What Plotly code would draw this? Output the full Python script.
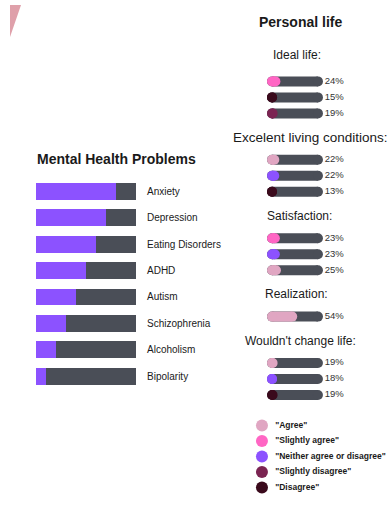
import plotly.graph_objects as go

W, H = 391, 517
FONT = "Liberation Sans, Arial, Helvetica, sans-serif"

# ---------------- data ----------------
problems = ["Anxiety", "Depression", "Eating Disorders", "ADHD", "Autism",
            "Schizophrenia", "Alcoholism", "Bipolarity"]
problem_pct = [80, 70, 60, 50, 40, 30, 20, 10]

answers = ['"Agree"', '"Slightly agree"', '"Neither agree or disagree"',
           '"Slightly disagree"', '"Disagree"']
answer_colors = ["#e0a6c2", "#ff66c4", "#8c52ff", "#7b2452", "#3a0a1c"]

groups = ["Ideal life:", "Excelent living conditions:", "Satisfaction:",
          "Realization:", "Wouldn't change life:"]
group_answers = [
    ['"Slightly agree"', '"Disagree"', '"Slightly disagree"'],
    ['"Agree"', '"Neither agree or disagree"', '"Disagree"'],
    ['"Slightly agree"', '"Neither agree or disagree"', '"Agree"'],
    ['"Agree"'],
    ['"Agree"', '"Neither agree or disagree"', '"Disagree"'],
]
group_values = [
    [24, 15, 19],
    [22, 22, 13],
    [23, 23, 25],
    [54],
    [19, 18, 19],
]

# ---------------- styles ----------------
PURPLE = "#8c52ff"
GRAY = "#4a4e57"
TEXT = "#1a1a1a"
color_of = dict(zip(answers, answer_colors))
head_sizes = [12, 13.5, 12, 12, 12]
head_cx = [297, 310, 299, 296, 300]   # heading centres, px

fig = go.Figure()

# ---------------- left chart: stacked bars ----------------
fig.add_trace(go.Bar(
    x=problem_pct, y=problems, orientation="h",
    marker=dict(color=PURPLE, line=dict(width=0)),
    xaxis="x", yaxis="y", showlegend=False, hoverinfo="skip"))
fig.add_trace(go.Bar(
    x=[100 - v for v in problem_pct], y=problems, orientation="h",
    marker=dict(color=GRAY, line=dict(width=0)),
    xaxis="x", yaxis="y", showlegend=False, hoverinfo="skip"))

# ---------------- right chart: rounded pills ----------------
CAP = 9.0          # radius of pill cap in axis units
PILL_W = 10        # px
FIRST_GAP, AFTER_HEAD, BEFORE_HEAD = 1.65, 1.4, 1.5

pos = 0.0
head_pos = []
rows = []  # (y, value, answer)
for gi, (g, ans, vals) in enumerate(zip(groups, group_answers, group_values)):
    head_pos.append(pos)
    pos += FIRST_GAP if gi == 0 else AFTER_HEAD
    for k, (a, v) in enumerate(zip(ans, vals)):
        rows.append((pos + k, v, a))
    pos = rows[-1][0] + BEFORE_HEAD

# gray background pills
gx, gy = [], []
for y, v, a in rows:
    gx += [CAP, 100 - CAP, None]
    gy += [y, y, None]
fig.add_trace(go.Scatter(
    x=gx, y=gy, mode="lines+markers", xaxis="x2", yaxis="y2",
    line=dict(color=GRAY, width=PILL_W),
    marker=dict(color=GRAY, size=PILL_W, line=dict(width=0)),
    showlegend=False, hoverinfo="skip", cliponaxis=False))

# colored fills
for y, v, a in rows:
    end = max(CAP, v - CAP)
    fig.add_trace(go.Scatter(
        x=[CAP, end], y=[y, y], mode="lines+markers", xaxis="x2", yaxis="y2",
        line=dict(color=color_of[a], width=PILL_W),
        marker=dict(color=color_of[a], size=PILL_W, line=dict(width=0)),
        showlegend=False, hoverinfo="skip", cliponaxis=False))

# percent labels
fig.add_trace(go.Scatter(
    x=[103] * len(rows), y=[r[0] for r in rows],
    text=[f"{r[1]}%" for r in rows], mode="text", textposition="middle right",
    textfont=dict(family=FONT, size=9.5, color="#333333"),
    xaxis="x2", yaxis="y2", showlegend=False, hoverinfo="skip", cliponaxis=False))

# legend (custom)
LEG_START, LEG_STEP = rows[-1][0] + 1.9, 0.97
fig.add_trace(go.Scatter(
    x=[-9] * len(answers), y=[LEG_START + i * LEG_STEP for i in range(len(answers))],
    mode="markers+text", text=[f"\u00a0\u00a0<b>{a}</b>" for a in answers],
    textposition="middle right",
    textfont=dict(family=FONT, size=8.5, color=TEXT),
    marker=dict(color=answer_colors, size=12, line=dict(width=0)),
    xaxis="x2", yaxis="y2", showlegend=False, hoverinfo="skip", cliponaxis=False))

# ---------------- annotations ----------------
ann = []
for g, p, s, cx in zip(groups, head_pos, head_sizes, head_cx):
    ann.append(dict(text=g, xref="paper", yref="y2", x=cx / W, y=p,
                    xanchor="center", yanchor="middle", showarrow=False,
                    font=dict(family=FONT, size=s, color=TEXT)))
ann.append(dict(text="<b>Personal life</b>", xref="paper", yref="paper",
                x=300 / W, y=1 - 22 / H, xanchor="center", yanchor="middle",
                showarrow=False, font=dict(family=FONT, size=14, color=TEXT)))
ann.append(dict(text="<b>Mental Health Problems</b>", xref="paper", yref="paper",
                x=35 / W, y=1 - 159 / H, xanchor="left", yanchor="middle",
                showarrow=False, font=dict(family=FONT, size=14, color=TEXT)))

# y2 mapping: px = Y0 + UNIT * u ; x2 mapping: px = X0 + PXU * x
Y0, UNIT = 55, 16
X0, PXU = 267, 0.56
X2_LEFT_PX = 240

fig.update_layout(
    width=W, height=H, autosize=False,
    margin=dict(l=0, r=0, t=0, b=0),
    paper_bgcolor="white", plot_bgcolor="rgba(0,0,0,0)",
    barmode="stack", bargap=0.36,
    font=dict(family=FONT, color=TEXT),
    xaxis=dict(domain=[36 / W, 136 / W], range=[0, 100], visible=False, fixedrange=True),
    yaxis=dict(domain=[1 - 389.5 / H, 1 - 178 / H], autorange="reversed",
               side="right", showgrid=False, zeroline=False, showline=False,
               ticks="", ticklabelstandoff=10,
               tickfont=dict(family=FONT, size=10, color=TEXT), fixedrange=True),
    xaxis2=dict(domain=[X2_LEFT_PX / W, 1], anchor="y2", visible=False,
                range=[(X2_LEFT_PX - X0) / PXU, (W - X0) / PXU], fixedrange=True),
    yaxis2=dict(domain=[0, 1], range=[(H - Y0) / UNIT, -Y0 / UNIT], visible=False,
                anchor="x2", fixedrange=True),
    annotations=ann,
    shapes=[dict(type="path", xref="paper", yref="paper",
                 path=f"M {10/W},{1-5/H} L {21/W},{1-5/H} L {10/W},{1-37/H} Z",
                 fillcolor="#dfa0aa", line=dict(width=0), layer="below")],
)

fig.write_html("out.html", config={"displayModeBar": False})
